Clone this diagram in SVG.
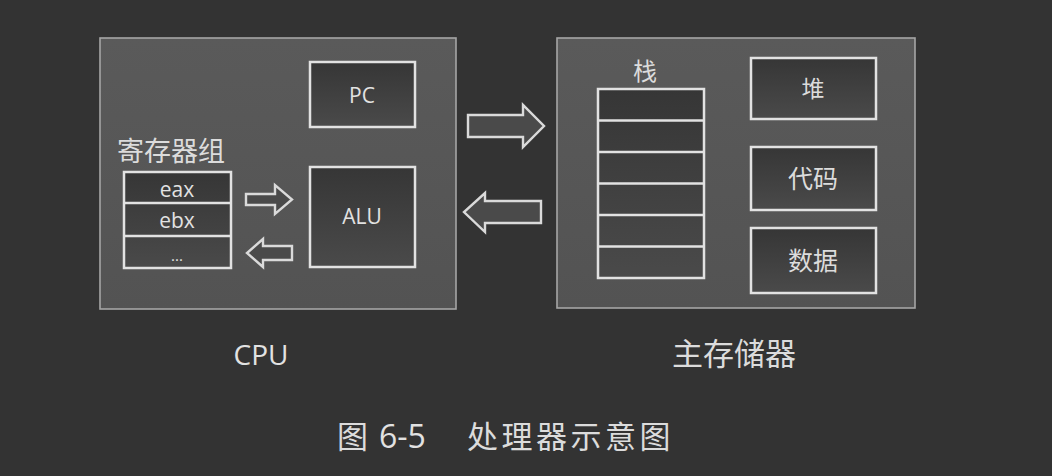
<svg xmlns="http://www.w3.org/2000/svg" width="1052" height="476" viewBox="0 0 1052 476">
<defs>
<linearGradient id="outerG" x1="0" y1="0" x2="0" y2="1">
<stop offset="0" stop-color="#5a5a5a"/>
<stop offset="1" stop-color="#535353"/>
</linearGradient>
<linearGradient id="innerG" x1="0" y1="0" x2="0" y2="1">
<stop offset="0" stop-color="#363636"/>
<stop offset="1" stop-color="#4a4a4a"/>
</linearGradient>
<style>
.outer{fill:url(#outerG);stroke:#a6a6a6;stroke-width:1.6}
.inner{fill:url(#innerG);stroke:#e2e2e2;stroke-width:2.5}
.row{fill:none;stroke:#e2e2e2;stroke-width:2.5}
.arrow{fill:#4a4a4a;stroke:#dadada;stroke-width:2.4;stroke-linejoin:miter}
.lat{font-family:"Open Sans","Noto Sans",sans-serif;fill:#e2e2e2;text-anchor:middle}
.cjk{font-family:"Noto Sans CJK SC","Noto Sans",sans-serif;fill:#dcdcdc;text-anchor:middle}
.start{text-anchor:start}
</style>
</defs>
<rect width="1052" height="476" fill="#333333"/>

<g id="cpu">
<rect class="outer" x="100" y="38" width="356" height="271"/>
<text class="lat" x="261" y="365" font-size="28">CPU</text>
</g>

<g id="pc">
<rect class="inner" x="310" y="62" width="105" height="65"/>
<text class="lat" x="362" y="103" font-size="21">PC</text>
</g>

<g id="alu">
<rect class="inner" x="310" y="167" width="105" height="100"/>
<text class="lat" x="362" y="224" font-size="21">ALU</text>
</g>

<g id="registers">
<text class="cjk" x="171" y="161" font-size="27">寄存器组</text>
<rect class="inner" x="124" y="172" width="107" height="96"/>
<line class="row" x1="124" y1="203" x2="231" y2="203"/>
<line class="row" x1="124" y1="236" x2="231" y2="236"/>
<text class="lat" x="177" y="197" font-size="21">eax</text>
<text class="lat" x="177" y="228" font-size="21">ebx</text>
<text class="lat" x="177" y="261" font-size="15">...</text>
</g>

<g id="memory">
<rect class="outer" x="557" y="38" width="358" height="270"/>
<text class="cjk" x="734" y="365" font-size="31">主存储器</text>
</g>

<g id="stack">
<text class="cjk" x="645" y="80" font-size="24">栈</text>
<rect class="inner" x="598" y="89" width="106" height="189"/>
<line class="row" x1="598" y1="120.5" x2="704" y2="120.5"/>
<line class="row" x1="598" y1="152" x2="704" y2="152"/>
<line class="row" x1="598" y1="183.5" x2="704" y2="183.5"/>
<line class="row" x1="598" y1="215" x2="704" y2="215"/>
<line class="row" x1="598" y1="246.5" x2="704" y2="246.5"/>
</g>

<g id="heap">
<rect class="inner" x="751" y="58" width="125" height="61"/>
<text class="cjk" x="813" y="97" font-size="23">堆</text>
</g>

<g id="code">
<rect class="inner" x="751" y="147" width="125" height="63"/>
<text class="cjk" x="813" y="188" font-size="25">代码</text>
</g>

<g id="data">
<rect class="inner" x="751" y="228" width="125" height="65"/>
<text class="cjk" x="813" y="270" font-size="25">数据</text>
</g>

<g id="connectors">
<path class="arrow" d="M246,194 L275,194 L275,185 L292,199.5 L275,214 L275,205 L246,205 Z"/>
<path class="arrow" d="M292,246 L263,246 L263,239 L247,253 L263,267 L263,260 L292,260 Z"/>
<path class="arrow" d="M468,115 L523,115 L523,105 L544,126 L523,147 L523,137 L468,137 Z"/>
<path class="arrow" d="M541,201 L485,201 L485,193 L464,212 L485,232 L485,223 L541,223 Z"/>
</g>

<g id="caption">
<text class="cjk start" x="337" y="448" font-size="31">图</text>
<text class="lat start" x="379" y="448" font-size="32">6-5</text>
<text class="cjk start" x="467" y="448" font-size="31" letter-spacing="3.5">处理器示意图</text>
</g>
</svg>
